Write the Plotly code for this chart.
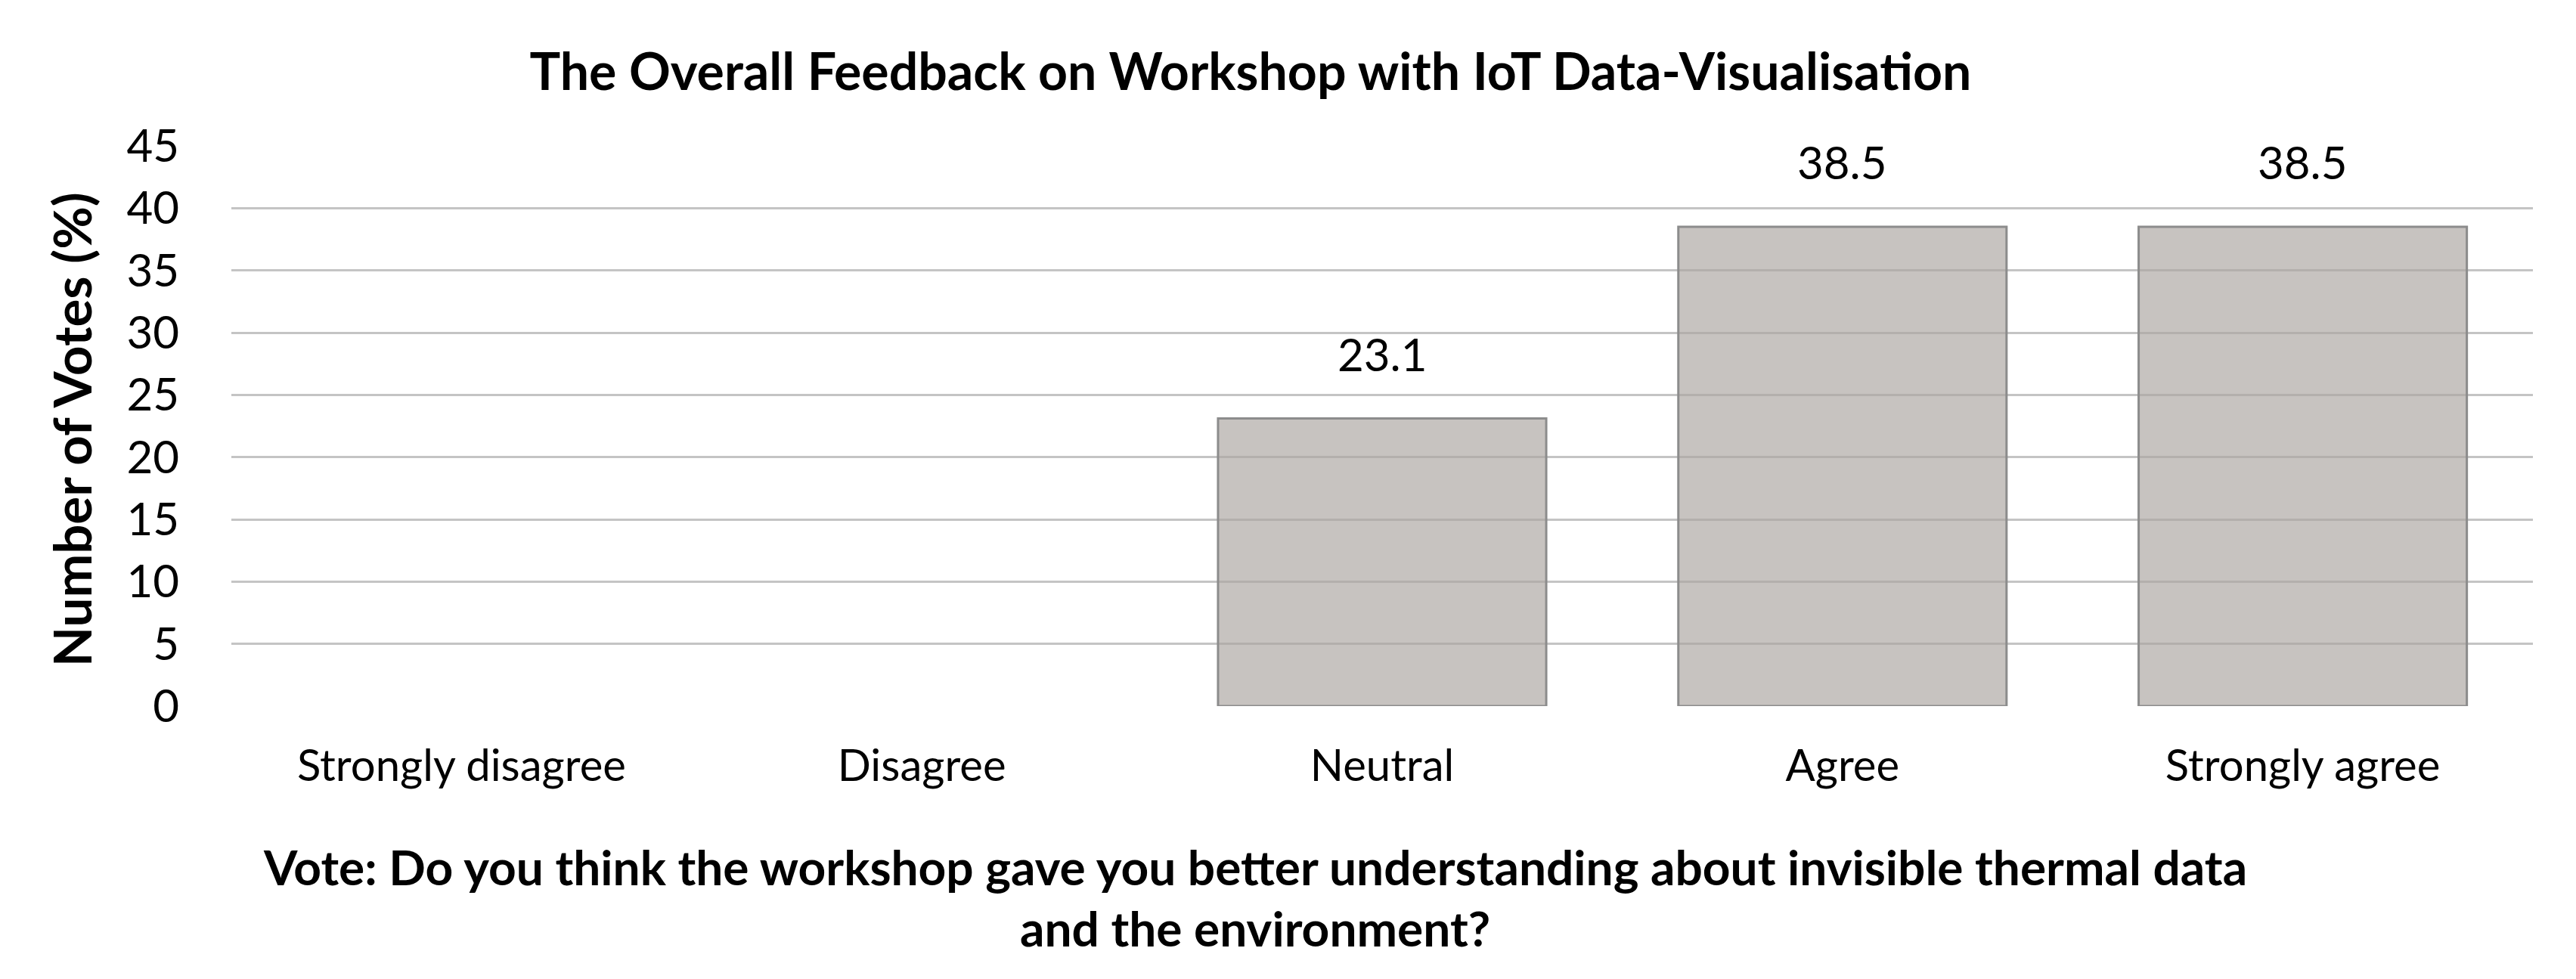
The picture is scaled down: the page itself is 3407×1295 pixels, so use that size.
import plotly.graph_objects as go

# ---- data ----
categories = ["Strongly disagree", "Disagree", "Neutral", "Agree", "Strongly agree"]
votes_pct = [0, 0, 23.1, 38.5, 38.5]
y_ticks = [0, 5, 10, 15, 20, 25, 30, 35, 40, 45]

title_text = "The Overall Feedback on Workshop with IoT Data-Visualisation"
y_title = "Number of Votes (%)"
x_title_lines = [
    "Vote: Do you think the workshop gave you better understanding about invisible thermal data",
    "and the environment?",
]

FONT = "Lato, 'Open Sans', sans-serif"

fig = go.Figure()
fig.add_trace(go.Bar(
    x=categories,
    y=votes_pct,
    marker=dict(color="rgba(170,164,160,0.66)",
                line=dict(color="#8c8c8c", width=[3 if v > 0 else 0 for v in votes_pct])),
    hoverinfo="x+y",
))

# value labels above the non-zero bars
annotations = []
for cat, v in zip(categories, votes_pct):
    if v > 0:
        annotations.append(dict(
            x=cat, y=v, xref="x", yref="y", text="{:.1f}".format(v),
            showarrow=False, yanchor="bottom", yshift=48,
            font=dict(family=FONT, size=60, color="#000000"),
        ))

# y axis title
annotations.append(dict(
    x=-0.0693, y=0.494, xref="paper", yref="paper", text="<b>" + y_title + "</b>",
    showarrow=False, textangle=-90, xanchor="center", yanchor="middle",
    font=dict(family=FONT, size=69, color="#000000"),
))

# x axis title (two centred lines)
for txt, yy in zip(x_title_lines, [-0.287, -0.396]):
    annotations.append(dict(
        x=0.4448, y=yy, xref="paper", yref="paper", text="<b>" + txt + "</b>",
        showarrow=False, xanchor="center", yanchor="middle",
        font=dict(family=FONT, size=64, color="#000000"),
    ))

fig.update_layout(
    width=3407, height=1295, autosize=False,
    margin=dict(l=298, r=65, t=185, b=369),
    paper_bgcolor="white", plot_bgcolor="white",
    title=dict(text="<b>" + title_text + "</b>", x=0.4831, xanchor="center",
               y=0.933, yanchor="middle", font=dict(family=FONT, size=68, color="#000000")),
    bargap=0.287,
    showlegend=False,
    annotations=annotations,
    font=dict(family=FONT, color="#000000"),
)

fig.update_yaxes(
    range=[0, 45], tickvals=y_ticks, showgrid=True, gridcolor="#c4c4c4", gridwidth=3,
    zeroline=False, showline=False, ticks="", ticklabelstandoff=68,
    tickfont=dict(family=FONT, size=60, color="#000000"),
)
fig.update_xaxes(
    showgrid=False, showline=False, zeroline=False, ticks="", ticklabelstandoff=40,
    tickfont=dict(family=FONT, size=58, color="#000000"),
)

fig.write_html("out.html")
